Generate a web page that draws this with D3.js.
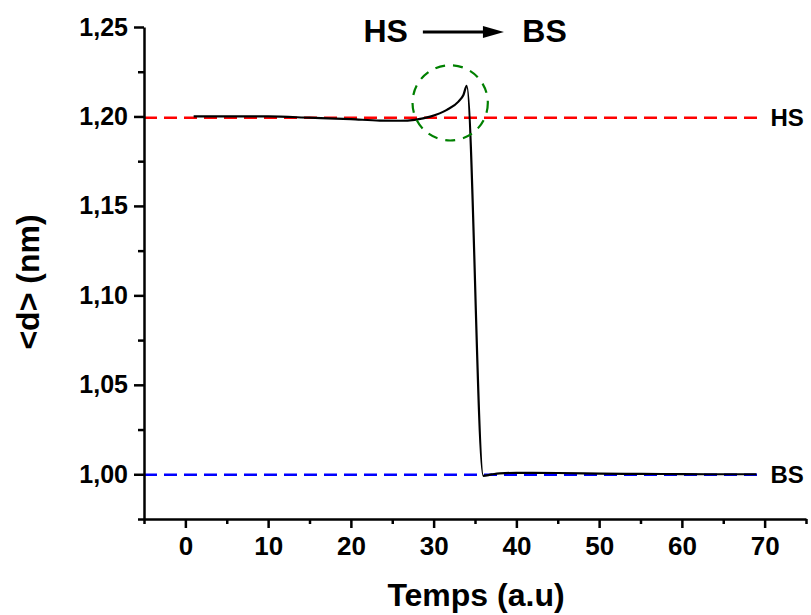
<!DOCTYPE html>
<html>
<head>
<meta charset="utf-8">
<script src="https://cdn.jsdelivr.net/npm/d3@7/dist/d3.min.js"></script>
<style>
  html, body { margin: 0; padding: 0; background: #fff; }
  svg { display: block; font-family: Arial, "Liberation Sans", sans-serif; }
</style>
</head>
<body>
<svg id="chart" width="811" height="615"></svg>
<script>
// ---- data ----
const timeValues = [1, 5, 10, 15, 20, 23.5, 26, 27.7, 29.6, 31.6, 33, 33.6, 34, 36, 37, 38, 40, 45, 50, 55, 60, 65, 69];
const dValues    = [1.2001, 1.2001, 1.2000, 1.1993, 1.1985, 1.1977, 1.1976, 1.1981, 1.1999, 1.2037, 1.2083, 1.2120, 1.2171,
                    0.9991, 0.9999, 1.0005, 1.0008, 1.0007, 1.0004, 1.0002, 1.0001, 1.0000, 1.0000];
const xTickMajor = [0, 10, 20, 30, 40, 50, 60, 70];
const xTickMinor = [-5, 5, 15, 25, 35, 45, 55, 65, 75];
const yTickMajor = [1.00, 1.05, 1.10, 1.15, 1.20, 1.25];
const yTickMinor = [0.975, 1.025, 1.075, 1.125, 1.175, 1.225];
const refLevels  = [{name: "HS", value: 1.1993, color: "#ff0000"}, {name: "BS", value: 0.9998, color: "#0000ff"}];
const refLineEnd = 69.5;
const highlight  = {x: 32.0, y: 1.2076, r: 4.55};
const transition = {from: "HS", to: "BS", fromX: 24.2, toX: 43.4, arrowX0: 28.7, arrowX1: 38.5, y: 1.2472, textY: 1.2416};
const xTitle = "Temps (a.u)";
const yTitle = "<d> (nm)";

// ---- layout ----
const svg = d3.select("#chart");
const margin = {top: 27, right: 5, bottom: 96, left: 144};
const W = 811, H = 615;
const x = d3.scaleLinear().domain([-5, 75]).range([margin.left, W - margin.right]);
const y = d3.scaleLinear().domain([0.975, 1.25]).range([H - margin.bottom, margin.top]);
const fmt = v => d3.format(".2f")(v).replace(".", ",");

// reference dashed lines
svg.selectAll("line.ref").data(refLevels).enter().append("line")
  .attr("class", "ref")
  .attr("x1", x(-5)).attr("x2", x(refLineEnd))
  .attr("y1", d => y(d.value)).attr("y2", d => y(d.value))
  .attr("stroke", d => d.color).attr("stroke-width", 2.5)
  .attr("stroke-dasharray", "13,7");
svg.selectAll("text.ref").data(refLevels).enter().append("text")
  .attr("class", "ref")
  .attr("x", x(refLineEnd) + 10).attr("y", d => y(d.value))
  .attr("dy", "0.36em")
  .attr("font-size", 24).attr("font-weight", "bold").attr("fill", "#000")
  .text(d => d.name);

// curve
const line = d3.line().x((d, i) => x(timeValues[i])).y(d => y(d)).curve(d3.curveMonotoneX);
svg.append("path").datum(dValues)
  .attr("d", line).attr("fill", "none").attr("stroke", "#000").attr("stroke-width", 2.2)
  .attr("stroke-linejoin", "round");

// highlight circle
svg.append("ellipse")
  .attr("cx", x(highlight.x)).attr("cy", y(highlight.y))
  .attr("rx", x(highlight.r) - x(0)).attr("ry", x(highlight.r) - x(0))
  .attr("fill", "none").attr("stroke", "#008000").attr("stroke-width", 2.2)
  .attr("stroke-dasharray", "10,8");

// axes
const axisStyle = g => {
  g.selectAll("path.domain").attr("stroke", "#000").attr("stroke-width", 2.5);
  g.selectAll(".tick line").attr("stroke", "#000").attr("stroke-width", 2.5);
  g.selectAll(".tick text").attr("fill", "#000").attr("font-weight", "bold")
    .attr("font-family", "Arial, 'Liberation Sans', sans-serif");
};
const gx = svg.append("g").attr("transform", `translate(0,${H - margin.bottom})`);
gx.call(d3.axisBottom(x).tickValues(xTickMajor).tickSize(9).tickPadding(9).tickSizeOuter(0).tickFormat(d3.format("d")))
  .call(axisStyle).selectAll(".tick text").attr("font-size", 26);
const gxm = svg.append("g").attr("transform", `translate(0,${H - margin.bottom})`);
gxm.call(d3.axisBottom(x).tickValues(xTickMinor).tickSize(5).tickSizeOuter(0).tickFormat(""))
  .call(axisStyle).select("path.domain").remove();

const gy = svg.append("g").attr("transform", `translate(${margin.left},0)`);
gy.call(d3.axisLeft(y).tickValues(yTickMajor).tickSize(10).tickPadding(6).tickSizeOuter(0).tickFormat(fmt))
  .call(axisStyle).selectAll(".tick text").attr("font-size", 25);
const gym = svg.append("g").attr("transform", `translate(${margin.left},0)`);
gym.call(d3.axisLeft(y).tickValues(yTickMinor).tickSize(6).tickSizeOuter(0).tickFormat(""))
  .call(axisStyle).select("path.domain").remove();

// axis titles
svg.append("text")
  .attr("x", (margin.left + W - margin.right) / 2 + 1).attr("y", 606)
  .attr("text-anchor", "middle").attr("font-size", 32).attr("font-weight", "bold")
  .text(xTitle);
svg.append("text")
  .attr("transform", `translate(39,${(margin.top + H - margin.bottom) / 2 + 9}) rotate(-90)`)
  .attr("text-anchor", "middle").attr("font-size", 32).attr("font-weight", "bold")
  .text(yTitle);

// transition annotation
svg.append("text").attr("x", x(transition.fromX)).attr("y", y(transition.textY))
  .attr("text-anchor", "middle").attr("font-size", 32).attr("font-weight", "bold").text(transition.from);
svg.append("text").attr("x", x(transition.toX)).attr("y", y(transition.textY))
  .attr("text-anchor", "middle").attr("font-size", 32).attr("font-weight", "bold").text(transition.to);
const ax0 = x(transition.arrowX0), ax1 = x(transition.arrowX1), ay = y(transition.y);
svg.append("line").attr("x1", ax0).attr("x2", ax1 - 18).attr("y1", ay).attr("y2", ay)
  .attr("stroke", "#000").attr("stroke-width", 3);
svg.append("path")
  .attr("d", `M${ax1},${ay} L${ax1 - 21},${ay - 6} L${ax1 - 21},${ay + 6} Z`)
  .attr("fill", "#000");
</script>
</body>
</html>
